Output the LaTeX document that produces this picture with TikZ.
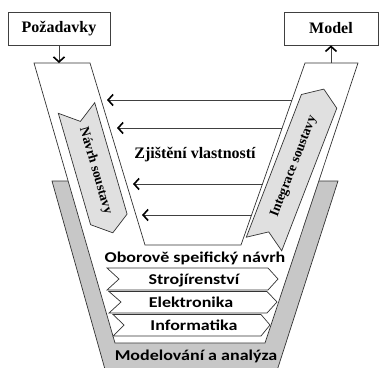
\documentclass[tikz,border=0pt]{standalone}
\usepackage{fontspec}
\setmainfont{Liberation Serif}
\newfontfamily\barfont{Carlito}[FakeStretch=1.2]
\usetikzlibrary{arrows.meta}
\begin{document}
\begin{tikzpicture}[x=1pt,y=-1pt,
  outline/.style={draw=black!80, line width=0.7pt},
  band/.style={outline, fill=black!22},
  stagearrow/.style={outline, fill=black!12},
  bar/.style={outline, fill=white},
  flow/.style={draw=black!75, line width=0.8pt,
    -{Straight Barb[length=5pt,width=11pt,line width=1.6pt,color=black]}},
  headbox/.style={draw=black!75, line width=0.8pt, fill=white,
    minimum height=33pt, inner sep=0pt,
    font=\fontsize{16}{18}\selectfont\bfseries},
  serifbold/.style={font=\fontsize{16}{18}\selectfont\bfseries, inner sep=0pt},
  slanted/.style={font=\fontsize{13.5}{15}\selectfont\bfseries, inner sep=0pt},
  sanslabel/.style={font=\barfont\fontsize{15}{17}\selectfont\bfseries, inner sep=0pt},
]
\useasboundingbox (0,0) rectangle (380,367);

% gray modelling layer behind the V
\path[band] (52,181) -- (338,181) -- (274,380) -- (108,380) -- cycle;
% the opening between the two arms stays blank
\fill[white] (90,63) -- (145,245) -- (241,245) -- (305,63) -- cycle;

% white V of the development process
\path[outline, fill=white] (34,63) -- (90,63) -- (145,245) -- (241,245)
  -- (305,63) -- (358,63) -- (265,343) -- (115,343) -- cycle;

% design arrow on the left arm
\path[stagearrow] (58.3,113.3) -- (80.4,121.4) -- (94.7,102.7)
  -- (127.1,214.1) -- (112.8,232.8) -- (90.6,224.7) -- cycle;
\node[slanted, rotate=-73.8] (navrh) at (95.5,171) {Návrh soustavy};

% integration arrow on the right arm
\path[stagearrow] (246.3,237.2) -- (268.7,231.9) -- (281.7,250.8)
  -- (336.8,108.2) -- (323.8,89.1) -- (301.4,94.5) -- cycle;
\node[slanted, rotate=68.9] (integrace) at (293.9,166.6) {Integrace soustavy};

% input and output boxes
\node[headbox, minimum width=102pt] (pozadavky) at (59,28.5) {Požadavky};
\node[headbox, minimum width=94pt] (model) at (331,28.5) {Model};
\coordinate (vin) at (59,63);
\coordinate (vout) at (331,63);
\draw[flow] (pozadavky.south) -- (vin);
\draw[flow] (vout) -- (model.south);

% property feedback arrows
\foreach \y/\xr/\xl [count=\i] in {100/292/107, 128/282/117, 184/262.6/133, 215/251.8/142} {
  \coordinate (r\i) at (\xr,\y);
  \coordinate (l\i) at (\xl,\y);
  \draw[flow] (r\i) -- (l\i);
}
\node[serifbold] (zjisteni) at (195,155) {Zjištění vlastností};

% domain-specific design
\node[sanslabel] (obor) at (195,258) {Oborově speifický návrh};
\path[bar] (107,268) -- (268,268) -- (278,279) -- (268,290) -- (107,290) -- (119,279) -- cycle;
\path[bar] (109,291.5) -- (267,291.5) -- (277,302) -- (267,313) -- (109,313) -- (121,302) -- cycle;
\path[bar] (113,314.5) -- (261,314.5) -- (270,325) -- (261,336) -- (113,336) -- (124,325) -- cycle;
\node[sanslabel] (stroj) at (194,280) {Strojírenství};
\node[sanslabel] (elektro) at (191,302) {Elektronika};
\node[sanslabel] (info) at (194,325) {Informatika};

\node[sanslabel] (modelovani) at (196,356) {Modelování a analýza};
\end{tikzpicture}
\end{document}
